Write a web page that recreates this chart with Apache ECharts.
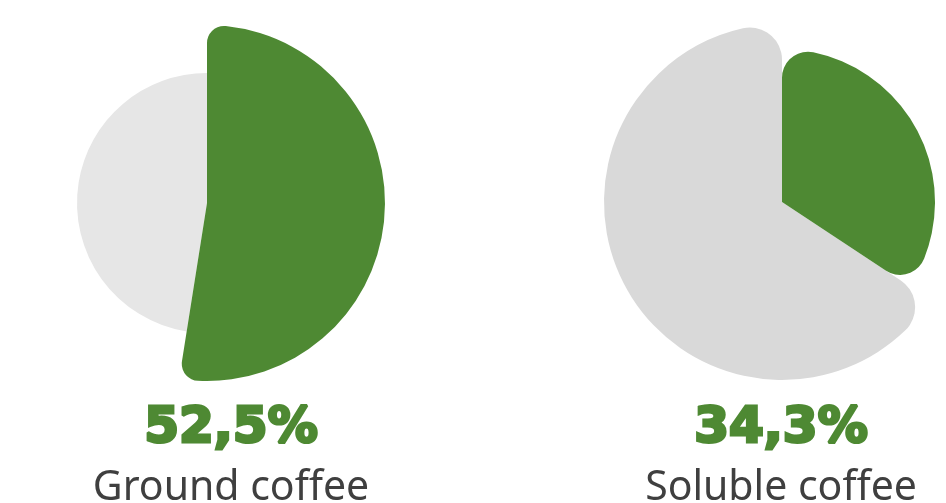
<!DOCTYPE html>
<html>
<head>
<meta charset="utf-8">
<script src="https://cdn.jsdelivr.net/npm/echarts@6/dist/echarts.min.js"></script>
<style>
  html, body { margin: 0; padding: 0; background: #ffffff; }
  #chart { width: 946px; height: 503px; }
</style>
</head>
<body>
<div id="chart"></div>
<script>
// Share of each coffee type (percent)
const categories = ['Ground coffee', 'Soluble coffee'];
const shareValues = [52.5, 34.3];
const restValues = shareValues.map(v => +(100 - v).toFixed(1));

const GREEN = '#4e8933';
const GREY_LIGHT = ['#e6e6e6', '#d9d9d9'];
const TEXT = '#3f3f3f';

// layout of each pie: centre, radius and corner rounding of the share slice and the rest
const pies = [
  { cx: 207, cy: 203, rShare: 178, rRest: 130, cornerShare: 17, cornerRest: 0, labelX: 231 },
  { cx: 782, cy: 202, rShare: 153, rRest: 178, cornerShare: 26, cornerRest: 32, labelX: 781 }
];

const series = [];
const graphics = [];
pies.forEach((p, i) => {
  const base = {
    type: 'pie',
    center: [p.cx, p.cy],
    startAngle: 90,
    clockwise: true,
    silent: true,
    animation: false,
    label: { show: false },
    labelLine: { show: false },
    emphasis: { disabled: true }
  };
  // remainder slice (drawn first, underneath)
  series.push(Object.assign({}, base, {
    radius: [0, p.rRest],
    z: 1,
    itemStyle: { borderRadius: p.cornerRest },
    data: [
      { name: categories[i], value: shareValues[i], itemStyle: { color: 'transparent' } },
      { name: 'rest', value: restValues[i], itemStyle: { color: GREY_LIGHT[i] } }
    ]
  }));
  // share slice
  series.push(Object.assign({}, base, {
    radius: [0, p.rShare],
    z: 2,
    itemStyle: { borderRadius: p.cornerShare },
    data: [
      { name: categories[i], value: shareValues[i], itemStyle: { color: GREEN } },
      { name: 'rest', value: restValues[i], itemStyle: { color: 'transparent' } }
    ]
  }));
  graphics.push({
    type: 'text',
    x: p.labelX, y: 454,
    style: {
      text: shareValues[i].toFixed(1).replace('.', ',') + '%',
      fill: GREEN,
      stroke: GREEN,
      lineWidth: 3,
      font: '900 50px "DejaVu Sans"',
      align: 'center',
      verticalAlign: 'bottom'
    }
  });
  graphics.push({
    type: 'text',
    x: p.labelX, y: 488,
    style: {
      text: categories[i],
      fill: TEXT,
      font: '41px "Noto Sans"',
      align: 'center',
      verticalAlign: 'middle'
    }
  });
});

const chart = echarts.init(document.getElementById('chart'), null, { renderer: 'canvas' });
chart.setOption({
  backgroundColor: '#ffffff',
  animation: false,
  series: series,
  graphic: graphics
});
</script>
</body>
</html>
